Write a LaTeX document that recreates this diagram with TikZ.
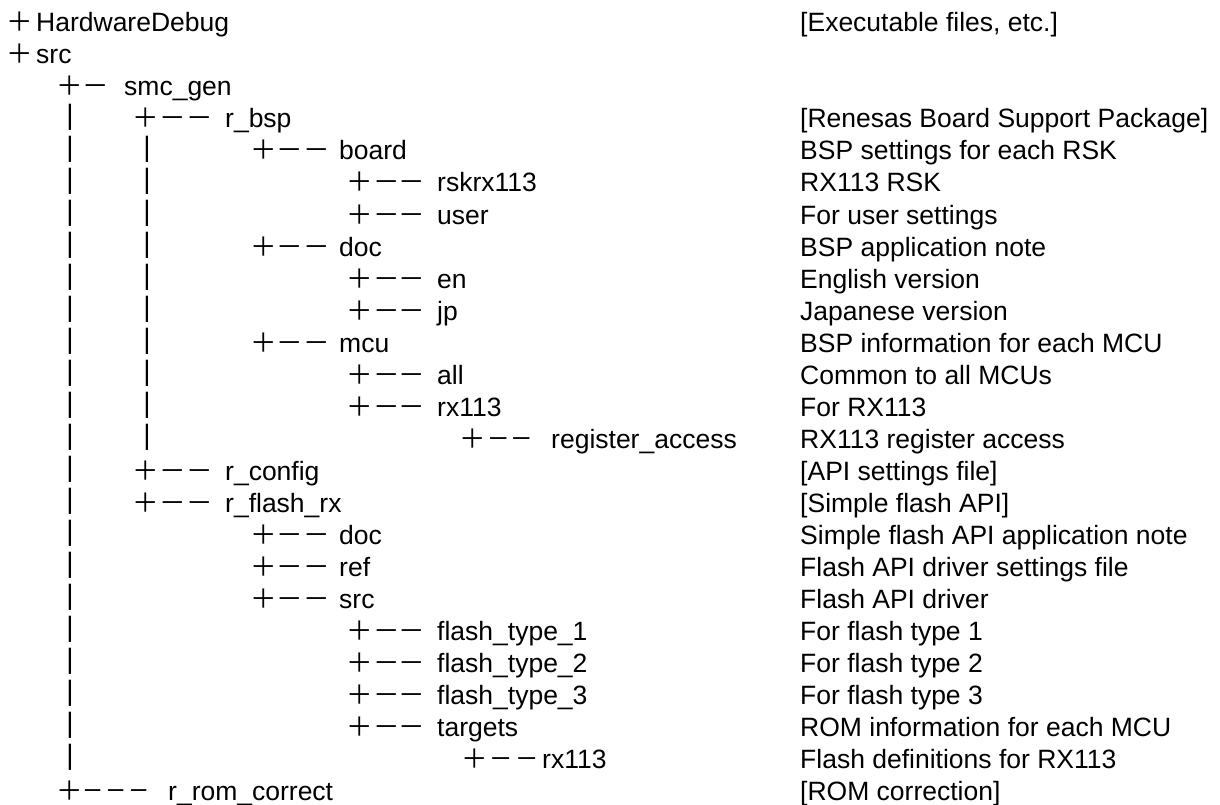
\documentclass[tikz,border=0pt]{standalone}
\usepackage{fontspec}
\setmainfont{Liberation Sans}
\newfontfamily\cjkfont{Noto Sans CJK JP}
\tikzset{
  tglyph/.style={inner sep=0pt, anchor=base, font=\cjkfont\fontsize{26.5}{30}\selectfont},
  tbar/.style={inner sep=0pt, font=\fontsize{28}{30}\selectfont},
  tname/.style={inner sep=0pt, anchor=base west, font=\fontsize{26.5}{30}\selectfont},
  tdesc/.style={tname},
}
\newcommand\dscale{1}
\newcommand\dashglyph{\scalebox{\dscale}[1]{－}}
% id, row, plus centre x, dash centre xs, text x, name
\newcommand\trow[6]{%
  \node[tglyph] (#1p) at (#3,{-32*#2}) {＋};
  \foreach \dx [count=\k] in {#4} {\node[tglyph] (#1d\k) at (\dx,{-32*#2}) {\dashglyph};}
  \node[tname] (#1) at (#5,{-32*#2}) {#6};
}
\newcommand\dsc[3]{\node[tdesc] (#1) at (800,{-32*#2}) {#3};}
\begin{document}
\begin{tikzpicture}[x=1pt,y=1pt]
\useasboundingbox (0,0) rectangle (1220,-805);
% vertical bars
\foreach \r in {4,...,24} {\node[tbar] (ba\r) at (70,{-32*\r+11}) {|};}
\foreach \r in {5,...,14} {\node[tbar] (bb\r) at (147,{-32*\r+11}) {|};}
% rows
\node[tglyph] (hwp) at (20,-32) {＋};
\node[tname] (hw) at (36,-32) {HardwareDebug};
\node[tglyph] (srcp) at (20,-64) {＋};
\node[tname] (src) at (36,-64) {src};
\trow{smc}{3}{70}{95.5}{124}{smc\_gen}
\trow{bsp}{4}{146}{173,200}{225}{r\_bsp}
\trow{board}{5}{263.5}{290,317}{339}{board}
\trow{rsk}{6}{359.5}{387,412}{437}{rskrx113}
\trow{user}{7}{359.5}{387,412}{437}{user}
\trow{bdoc}{8}{263.5}{290,317}{339}{doc}
\trow{en}{9}{359.5}{387,412}{437}{en}
\trow{jp}{10}{359.5}{387,412}{437}{jp}
\trow{mcu}{11}{263.5}{290,317}{339}{mcu}
\trow{all}{12}{359.5}{387,412}{437}{all}
\trow{rx}{13}{359.5}{387,412}{437}{rx113}
\renewcommand\dscale{0.85}
\trow{reg}{14}{473}{498.5,521.5}{551}{register\_access}
\renewcommand\dscale{1}
\trow{cfg}{15}{146}{173,200}{225}{r\_config}
\trow{flash}{16}{146}{173,200}{225}{r\_flash\_rx}
\trow{fdoc}{17}{263.5}{290,317}{339}{doc}
\trow{ref}{18}{263.5}{290,317}{339}{ref}
\trow{fsrc}{19}{263.5}{290,317}{339}{src}
\trow{ftA}{20}{359.5}{387,412}{437}{flash\_type\_1}
\trow{ftB}{21}{359.5}{387,412}{437}{flash\_type\_2}
\trow{ftC}{22}{359.5}{387,412}{437}{flash\_type\_3}
\trow{tgt}{23}{359.5}{387,412}{437}{targets}
\renewcommand\dscale{0.88}
\trow{trx}{24}{475}{501,527}{542}{rx113}
\renewcommand\dscale{0.8}
\trow{rom}{25}{70}{93,116,139}{168}{r\_rom\_correct}
% descriptions
\dsc{hwx}{1}{[Executable files, etc.]}
\dsc{bspx}{4}{[Renesas Board Support Package]}
\dsc{boardx}{5}{BSP settings for each RSK}
\dsc{rskx}{6}{RX113 RSK}
\dsc{userx}{7}{For user settings}
\dsc{bdocx}{8}{BSP application note}
\dsc{enx}{9}{English version}
\dsc{jpx}{10}{Japanese version}
\dsc{mcux}{11}{BSP information for each MCU}
\dsc{allx}{12}{Common to all MCUs}
\dsc{rxx}{13}{For RX113}
\dsc{regx}{14}{RX113 register access}
\dsc{cfgx}{15}{[API settings file]}
\dsc{flashx}{16}{[Simple flash API]}
\dsc{fdocx}{17}{Simple flash API application note}
\dsc{refx}{18}{Flash API driver settings file}
\dsc{fsrcx}{19}{Flash API driver}
\dsc{ftAx}{20}{For flash type 1}
\dsc{ftBx}{21}{For flash type 2}
\dsc{ftCx}{22}{For flash type 3}
\dsc{tgtx}{23}{ROM information for each MCU}
\dsc{trxx}{24}{Flash definitions for RX113}
\dsc{romx}{25}{[ROM correction]}
\end{tikzpicture}
\end{document}
